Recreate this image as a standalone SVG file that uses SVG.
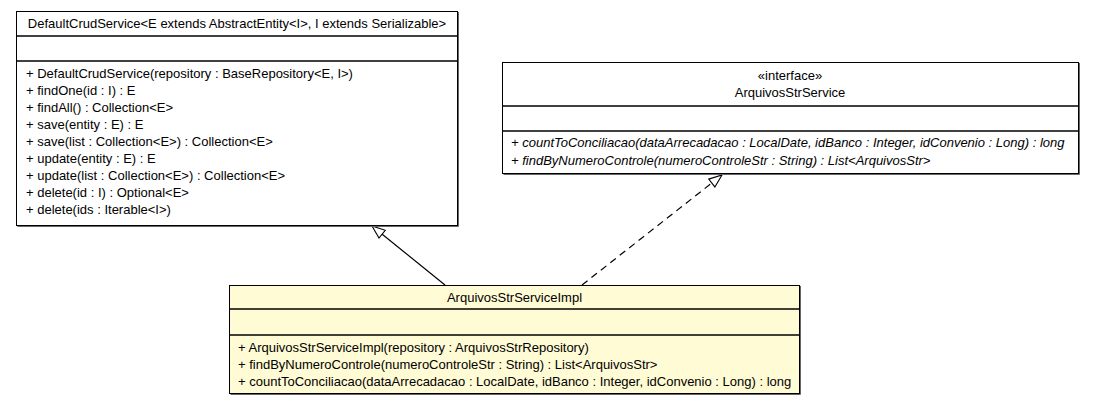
<svg xmlns="http://www.w3.org/2000/svg" width="1095" height="405" viewBox="0 0 1095 405">
  <style>
    text { font-family: "Liberation Sans", Arial, sans-serif; font-size: 13px; fill: #000; }
    .c { text-anchor: middle; }
    .i { font-style: italic; }
    .box { stroke: #000; stroke-width: 1; }
    .shadow { fill: none; stroke: #666; stroke-width: 1; }
    .div { stroke: #000; stroke-width: 1.5; }
    .edge { fill: none; stroke: #000; stroke-width: 1.2; }
    .dash { stroke-dasharray: 7 5; }
  </style>
  <defs>
    <!-- hollow triangle head for generalization / realization -->
    <marker id="hollow" viewBox="0 0 15 12" refX="14" refY="6" markerWidth="15" markerHeight="12" markerUnits="userSpaceOnUse" orient="auto">
      <path d="M1,1 L14,6 L1,11 Z" fill="#fff" stroke="#000" stroke-width="1.1"/>
    </marker>
  </defs>

  <!-- connectors -->
  <g id="connectors">
    <line class="edge" x1="445" y1="285" x2="372" y2="226" marker-end="url(#hollow)"/>
    <line class="edge dash" x1="582" y1="285" x2="722" y2="175" marker-end="url(#hollow)"/>
  </g>

  <!-- DefaultCrudService -->
  <g id="DefaultCrudService">
    <path class="shadow" d="M17.5,226.5 H458.5 V12"/>
    <rect class="box" x="16.5" y="11.5" width="441" height="214" fill="#fff"/>
    <line class="div" x1="16.5" y1="36" x2="457.5" y2="36"/>
    <line class="div" x1="16.5" y1="61" x2="457.5" y2="61"/>
    <text class="c" x="237" y="28">DefaultCrudService&lt;E extends AbstractEntity&lt;I&gt;, I extends Serializable&gt;</text>
    <text x="26" y="78">+ DefaultCrudService(repository : BaseRepository&lt;E, I&gt;)</text>
    <text x="26" y="95">+ findOne(id : I) : E</text>
    <text x="26" y="112">+ findAll() : Collection&lt;E&gt;</text>
    <text x="26" y="129">+ save(entity : E) : E</text>
    <text x="26" y="146">+ save(list : Collection&lt;E&gt;) : Collection&lt;E&gt;</text>
    <text x="26" y="163">+ update(entity : E) : E</text>
    <text x="26" y="180">+ update(list : Collection&lt;E&gt;) : Collection&lt;E&gt;</text>
    <text x="26" y="197">+ delete(id : I) : Optional&lt;E&gt;</text>
    <text x="26" y="214">+ delete(ids : Iterable&lt;I&gt;)</text>
  </g>

  <!-- ArquivosStrService -->
  <g id="ArquivosStrService">
    <path class="shadow" d="M503.5,174.5 H1079.5 V63"/>
    <rect class="box" x="502.5" y="62.5" width="576" height="111" fill="#fff"/>
    <line class="div" x1="502.5" y1="106" x2="1078.5" y2="106"/>
    <line class="div" x1="502.5" y1="131" x2="1078.5" y2="131"/>
    <text class="c" x="790" y="80">«interface»</text>
    <text class="c" x="790" y="97">ArquivosStrService</text>
    <text class="i" x="511" y="147">+ countToConciliacao(dataArrecadacao : LocalDate, idBanco : Integer, idConvenio : Long) : long</text>
    <text class="i" x="511" y="165">+ findByNumeroControle(numeroControleStr : String) : List&lt;ArquivosStr&gt;</text>
  </g>

  <!-- ArquivosStrServiceImpl -->
  <g id="ArquivosStrServiceImpl">
    <path class="shadow" d="M230.5,394.5 H800.5 V286"/>
    <rect class="box" x="229.5" y="285.5" width="570" height="108" fill="#FFFBD5"/>
    <line class="div" x1="229.5" y1="309" x2="799.5" y2="309"/>
    <line class="div" x1="229.5" y1="335" x2="799.5" y2="335"/>
    <text class="c" x="514.5" y="302">ArquivosStrServiceImpl</text>
    <text x="238" y="352">+ ArquivosStrServiceImpl(repository : ArquivosStrRepository)</text>
    <text x="238" y="369">+ findByNumeroControle(numeroControleStr : String) : List&lt;ArquivosStr&gt;</text>
    <text x="238" y="386">+ countToConciliacao(dataArrecadacao : LocalDate, idBanco : Integer, idConvenio : Long) : long</text>
  </g>
</svg>
